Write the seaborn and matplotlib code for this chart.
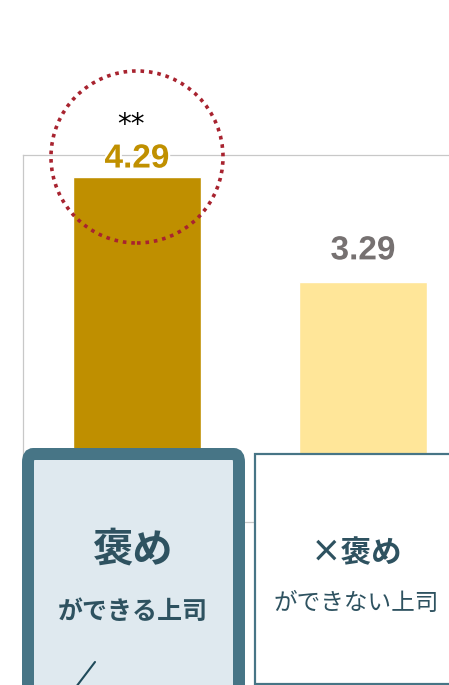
import matplotlib
matplotlib.use("Agg")
import matplotlib.pyplot as plt
import matplotlib.patheffects as pe
from matplotlib.patches import Ellipse, FancyBboxPatch
from matplotlib.lines import Line2D
import seaborn as sns
import pandas as pd

# ---- data ----
categories = ["褒めができる上司", "×褒めができない上司"]
values = [4.29, 3.29]
value_labels = ["4.29", "3.29"]
box_heads = ["褒め", "×褒め"]
box_subs = ["ができる上司", "ができない上司"]
significance = "**"

bar_colors = ["#bf8f00", "#ffe699"]
label_colors = ["#c09000", "#767171"]

W, H = 449, 685
DPI = 100

sns.set_theme(style="white")
plt.rcParams["font.family"] = ["Noto Sans CJK JP", "DejaVu Sans"]

fig = plt.figure(figsize=(W / DPI, H / DPI), dpi=DPI)
fig.patch.set_facecolor("white")


def fx(x):
    return x / W


def fy(y):
    return 1 - y / H


# axes extends beyond right edge of the figure (cropped chart)
ax = fig.add_axes([fx(23), fy(522), fx(477) - fx(23), fy(155) - fy(522)])
df = pd.DataFrame({"cat": categories, "val": values})
sns.barplot(data=df, x="cat", y="val", hue="cat", palette=bar_colors,
            width=0.566, saturation=1, legend=False, ax=ax)
ax.set_ylim(1, 4.5)
ax.set_xlim(-0.504, 1.504)
ax.set_xlabel("")
ax.set_ylabel("")
ax.set_xticks([])
ax.set_yticks([])
for s in ["top", "left", "bottom", "right"]:
    ax.spines[s].set_visible(True)
    ax.spines[s].set_color("#c8c8c8")
    ax.spines[s].set_linewidth(0.9)

# value labels
offsets_px = [18, 31]
for i, (v, lab, col, off) in enumerate(zip(values, value_labels, label_colors, offsets_px)):
    ax.annotate(lab, xy=(i, v), xytext=(0, off * 72 / DPI), textcoords="offset points",
                ha="center", va="center", fontsize=24, fontweight="bold",
                color=col, family=["Liberation Sans", "DejaVu Sans"],
                path_effects=[pe.withStroke(linewidth=3, foreground="white")])

# significance marks
ax.annotate(significance, xy=(0, values[0]), xytext=(-6 * 72 / DPI, 52 * 72 / DPI),
            textcoords="offset points", ha="center", va="center",
            fontsize=20, color="black", family=["DejaVu Sans"])

# dotted circle around the highlighted value
circ = Ellipse((fx(137), fy(157)), width=172 / W, height=172 / H,
               transform=fig.transFigure, fill=False, edgecolor="#a8232f",
               linewidth=2.6, linestyle=(0, (1, 1.35)), zorder=10)
fig.add_artist(circ)

# category boxes
box_edge = "#477586"
text_col = "#2e5260"

# shadow for highlighted box
shadow = FancyBboxPatch((fx(31), fy(700)), fx(239) - fx(28), fy(452) - fy(700),
                        boxstyle="round,pad=0,rounding_size=0.02",
                        transform=fig.transFigure, facecolor="#9a9a9a",
                        edgecolor="none", alpha=0.3, zorder=11)
fig.add_artist(shadow)

left_box = FancyBboxPatch((fx(28), fy(700)), fx(239) - fx(28), fy(454) - fy(700),
                          boxstyle="round,pad=0,rounding_size=0.012",
                          transform=fig.transFigure, facecolor="#dfe9ef",
                          edgecolor=box_edge, linewidth=12 * 72 / DPI, zorder=12)
fig.add_artist(left_box)

right_box = FancyBboxPatch((fx(255), fy(684)), fx(470) - fx(255), fy(454) - fy(684),
                           boxstyle="square,pad=0",
                           transform=fig.transFigure, facecolor="white",
                           edgecolor=box_edge, linewidth=2.2 * 72 / DPI, zorder=12)
fig.add_artist(right_box)

# small diagonal line inside left box
fig.add_artist(Line2D([fx(95), fx(76)], [fy(662), fy(687)], transform=fig.transFigure,
                      color="#1f4a5a", linewidth=1.5, zorder=13))

head_pos = [(133, 550), (357, 553)]
sub_pos = [(133, 612), (356, 604)]
head_sizes = [29, 22]
sub_sizes = [18, 17]
sub_weights = ["bold", "normal"]
for i in range(2):
    fig.text(fx(head_pos[i][0]), fy(head_pos[i][1]), box_heads[i], ha="center", va="center",
             fontsize=head_sizes[i], fontweight="bold", color=text_col, zorder=14)
    fig.text(fx(sub_pos[i][0]), fy(sub_pos[i][1]), box_subs[i], ha="center", va="center",
             fontsize=sub_sizes[i], fontweight=sub_weights[i], color=text_col, zorder=14)

fig.savefig("out.png", dpi=DPI)
